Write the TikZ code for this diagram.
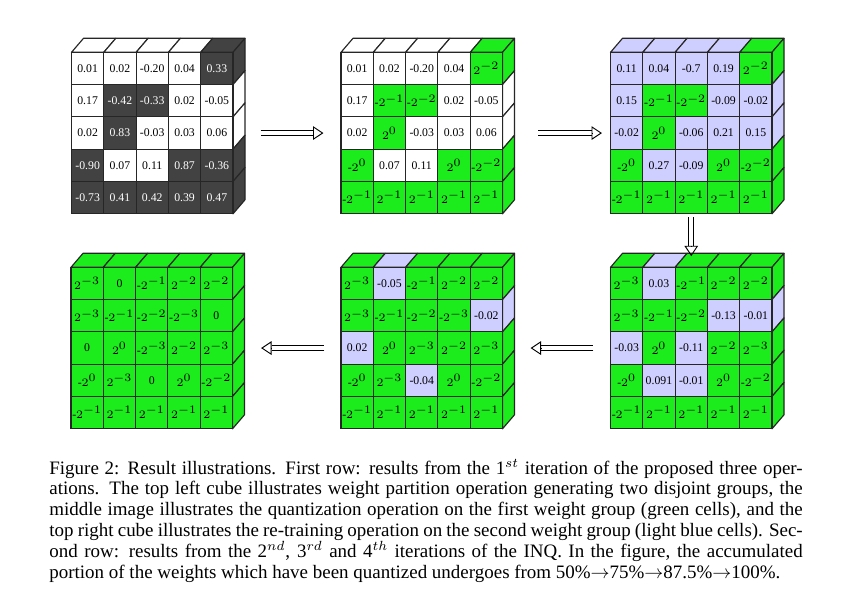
\documentclass[tikz,border=0pt]{standalone}
\usepackage{fontspec}
\setmainfont{Liberation Serif}
\usetikzlibrary{arrows.meta,calc}
\DeclareMathSizes{6.2}{6.4}{6.0}{4.8}
\definecolor{cw}{RGB}{255,255,255}
\definecolor{cd}{RGB}{66,66,66}
\definecolor{cg}{RGB}{28,236,28}
\definecolor{cb}{RGB}{206,206,255}
\newcommand{\cellsz}{32.3}
\newcommand{\depx}{12}
\newcommand{\depy}{14}
\tikzset{
  cell/.style={draw=black!85, line width=0.6pt, minimum width=17.02pt, minimum height=17.02pt, inner sep=0pt, font=\fontsize{6.2}{7.5}\selectfont},
  cellcw/.style={fill=cw},
  cellcd/.style={fill=cd, text=white},
  cellcg/.style={fill=cg},
  cellcb/.style={fill=cb},
  face/.style={draw=black!85, line width=0.6pt, line join=round},
  shaft/.style={draw=black, line width=0.5pt, double=white, double distance=2.1pt},
  ahead/.style={draw=black, line width=0.5pt, -{Triangle[open, length=5.5pt, width=7.2pt]}},
  caption/.style={text width=397pt, align=justify, inner sep=0pt, font=\fontsize{10}{11}\selectfont}
}
\newcommand{\inqgrid}[4]{%
  \foreach \rowlist [count=\r] in {#4} {
    \foreach \col/\txt [count=\c] in \rowlist {
      \ifnum\r=1
        \filldraw[face, fill=\col] ({#2+(\c-1)*\cellsz},{#3}) -- ++(\depx,-\depy) -- ++(\cellsz,0) -- ({#2+\c*\cellsz},{#3}) -- cycle;
      \fi
      \ifnum\c=5
        \filldraw[face, fill=\col] ({#2+5*\cellsz},{#3+(\r-1)*\cellsz}) -- ++(\depx,-\depy) -- ++(0,\cellsz) -- ({#2+5*\cellsz},{#3+\r*\cellsz}) -- cycle;
      \fi
      \node[cell, cell\col] (#1-\r-\c) at ({#2+(\c-0.5)*\cellsz},{#3+(\r-0.5)*\cellsz}) {\txt};
    }
  }
}
\newcommand{\dblarrow}[2]{%
  \draw[shaft] (#1) -- ($(#2)!5.5pt!(#1)$);
  \draw[ahead] ($(#2)!5.5pt!(#1)$) -- (#2);
}
\begin{document}
\begin{tikzpicture}[x=0.527pt, y=-0.527pt]
\useasboundingbox (0,0) rectangle (864,609);
\fill[white] (0,0) rectangle (864,609);

\inqgrid{g1}{71.5}{52.3}{
 {cw/0.01, cw/0.02, cw/-0.20, cw/0.04, cd/0.33},
 {cw/0.17, cd/-0.42, cd/-0.33, cw/0.02, cw/-0.05},
 {cw/0.02, cd/0.83, cw/-0.03, cw/0.03, cw/0.06},
 {cd/-0.90, cw/0.07, cw/0.11, cd/0.87, cd/-0.36},
 {cd/-0.73, cd/0.41, cd/0.42, cd/0.39, cd/0.47}}

\inqgrid{g2}{341}{52.3}{
 {cw/0.01, cw/0.02, cw/-0.20, cw/0.04, cg/$2^{-2}$},
 {cw/0.17, cg/-$2^{-1}$, cg/-$2^{-2}$, cw/0.02, cw/-0.05},
 {cw/0.02, cg/$2^{0}$, cw/-0.03, cw/0.03, cw/0.06},
 {cg/-$2^{0}$, cw/0.07, cw/0.11, cg/$2^{0}$, cg/-$2^{-2}$},
 {cg/-$2^{-1}$, cg/$2^{-1}$, cg/$2^{-1}$, cg/$2^{-1}$, cg/$2^{-1}$}}

\inqgrid{g3}{610.5}{52.3}{
 {cb/0.11, cb/0.04, cb/-0.7, cb/0.19, cg/$2^{-2}$},
 {cb/0.15, cg/-$2^{-1}$, cg/-$2^{-2}$, cb/-0.09, cb/-0.02},
 {cb/-0.02, cg/$2^{0}$, cb/-0.06, cb/0.21, cb/0.15},
 {cg/-$2^{0}$, cb/0.27, cb/-0.09, cg/$2^{0}$, cg/-$2^{-2}$},
 {cg/-$2^{-1}$, cg/$2^{-1}$, cg/$2^{-1}$, cg/$2^{-1}$, cg/$2^{-1}$}}

\inqgrid{g4}{71}{267.3}{
 {cg/$2^{-3}$, cg/0, cg/-$2^{-1}$, cg/$2^{-2}$, cg/$2^{-2}$},
 {cg/$2^{-3}$, cg/-$2^{-1}$, cg/-$2^{-2}$, cg/-$2^{-3}$, cg/0},
 {cg/0, cg/$2^{0}$, cg/-$2^{-3}$, cg/$2^{-2}$, cg/$2^{-3}$},
 {cg/-$2^{0}$, cg/$2^{-3}$, cg/0, cg/$2^{0}$, cg/-$2^{-2}$},
 {cg/-$2^{-1}$, cg/$2^{-1}$, cg/$2^{-1}$, cg/$2^{-1}$, cg/$2^{-1}$}}

\inqgrid{g5}{341}{267.3}{
 {cg/$2^{-3}$, cb/-0.05, cg/-$2^{-1}$, cg/$2^{-2}$, cg/$2^{-2}$},
 {cg/$2^{-3}$, cg/-$2^{-1}$, cg/-$2^{-2}$, cg/-$2^{-3}$, cb/-0.02},
 {cb/0.02, cg/$2^{0}$, cg/$2^{-3}$, cg/$2^{-2}$, cg/$2^{-3}$},
 {cg/-$2^{0}$, cg/$2^{-3}$, cb/-0.04, cg/$2^{0}$, cg/-$2^{-2}$},
 {cg/-$2^{-1}$, cg/$2^{-1}$, cg/$2^{-1}$, cg/$2^{-1}$, cg/$2^{-1}$}}

\inqgrid{g6}{610.5}{267.3}{
 {cg/$2^{-3}$, cb/0.03, cg/-$2^{-1}$, cg/$2^{-2}$, cg/$2^{-2}$},
 {cg/$2^{-3}$, cg/-$2^{-1}$, cg/-$2^{-2}$, cb/-0.13, cb/-0.01},
 {cb/-0.03, cg/$2^{0}$, cb/-0.11, cg/$2^{-2}$, cg/$2^{-3}$},
 {cg/-$2^{0}$, cb/0.091, cb/-0.01, cg/$2^{0}$, cg/-$2^{-2}$},
 {cg/-$2^{-1}$, cg/$2^{-1}$, cg/$2^{-1}$, cg/$2^{-1}$, cg/$2^{-1}$}}

\coordinate (a1s) at ($(g1-3-5.east)+(27,0)$);
\coordinate (a1e) at ($(g2-3-1.west)+(-17,0)$);
\coordinate (a2s) at ($(g2-3-5.east)+(35,0)$);
\coordinate (a2e) at ($(g3-3-1.west)+(-8,0)$);
\coordinate (a3s) at ($(g3-5-3.south)+(0,3)$);
\coordinate (a3e) at ($(g6-1-3.north)+(0,-10.5)$);
\coordinate (a4s) at ($(g6-3-1.west)+(-16.5,0)$);
\coordinate (a4e) at ($(g5-3-5.east)+(27.5,0)$);
\coordinate (a5s) at ($(g5-3-1.west)+(-16,0)$);
\coordinate (a5e) at ($(g4-3-5.east)+(28,0)$);
\dblarrow{a1s}{a1e}
\dblarrow{a2s}{a2e}
\dblarrow{a3s}{a3e}
\dblarrow{a4s}{a4e}
\dblarrow{a5s}{a5e}

\node[caption, anchor=base west] (cap) at (49,474) {Figure 2: Result illustrations. First row: results from the 1$^{st}$ iteration of the proposed three oper-\linebreak ations. The top left cube illustrates weight partition operation generating two disjoint groups, the\linebreak middle image illustrates the quantization operation on the first weight group (green cells), and the\linebreak top right cube illustrates the re-training operation on the second weight group (light blue cells). Sec-\linebreak ond row: results from the 2$^{nd}$, 3$^{rd}$ and 4$^{th}$ iterations of the INQ. In the figure, the accumulated\linebreak portion of the weights which have been quantized undergoes from 50\%$\rightarrow$75\%$\rightarrow$87.5\%$\rightarrow$100\%.};
\end{tikzpicture}
\end{document}
